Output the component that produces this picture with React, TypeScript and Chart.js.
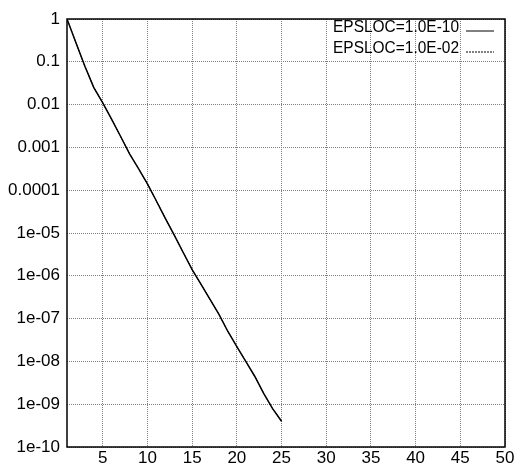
import React, { useEffect, useRef } from "react";
import { Chart, registerables } from "chart.js";

Chart.register(...registerables);

const iterations = [1, 2, 3, 4, 5, 6, 7, 8, 9, 10, 11, 12, 13, 14, 15, 16, 17, 18, 19, 20, 21, 22, 23, 24, 25];
const residualEps10 = [1, 0.28, 0.079, 0.025, 0.011, 0.0045, 0.0018, 7.1e-4, 3.2e-4, 1.4e-4, 5.6e-5, 2.2e-5, 8.9e-6, 3.5e-6, 1.4e-6, 6.3e-7, 2.8e-7, 1.26e-7, 5.0e-8, 2.2e-8, 1.0e-8, 4.5e-9, 1.8e-9, 7.9e-10, 4.0e-10];
const residualEps02 = [1, 0.28, 0.079, 0.025, 0.011, 0.0045, 0.0018, 7.1e-4, 3.2e-4, 1.4e-4, 5.6e-5, 2.2e-5, 8.9e-6, 3.5e-6, 1.4e-6, 6.3e-7, 2.8e-7, 1.26e-7, 5.0e-8, 2.2e-8, 1.0e-8, 4.5e-9, 1.8e-9, 7.9e-10, 4.0e-10];
const seriesNames = ["EPSLOC=1.0E-10", "EPSLOC=1.0E-02"];
const xTickValues = [5, 10, 15, 20, 25, 30, 35, 40, 45, 50];
const yTickValues = [1, 0.1, 0.01, 0.001, 0.0001, 1e-5, 1e-6, 1e-7, 1e-8, 1e-9, 1e-10];
const yTickLabels = ["1", "0.1", "0.01", "0.001", "0.0001", "1e-05", "1e-06", "1e-07", "1e-08", "1e-09", "1e-10"];

const FONT_FAMILY = "'Liberation Sans', Arial, sans-serif";
const FONT_SIZE = 17;

export default function App() {
  const ref = useRef<HTMLCanvasElement | null>(null);

  useEffect(() => {
    if (!ref.current) return;
    const framePlugin = {
      id: "frameAndLegend",
      afterDraw(chart: any) {
        const { ctx, chartArea } = chart;
        ctx.save();
        ctx.strokeStyle = "#000";
        ctx.lineWidth = 1.5;
        ctx.setLineDash([]);
        ctx.strokeRect(chartArea.left, chartArea.top, chartArea.right - chartArea.left, chartArea.bottom - chartArea.top);
        // legend (text slightly condensed horizontally, like the reference)
        const rows = [
          { y: 32, dash: [] as number[] },
          { y: 53, dash: [2, 1] },
        ];
        rows.forEach((r, i) => {
          ctx.save();
          ctx.font = FONT_SIZE + "px " + FONT_FAMILY;
          ctx.fillStyle = "#000";
          ctx.textAlign = "right";
          ctx.textBaseline = "alphabetic";
          ctx.translate(459, r.y);
          ctx.scale(0.91, 1);
          ctx.fillText(seriesNames[i], 0, 0);
          ctx.restore();
          ctx.beginPath();
          ctx.lineWidth = 1;
          ctx.strokeStyle = "#000";
          ctx.setLineDash(r.dash);
          ctx.moveTo(466, r.y - 1);
          ctx.lineTo(494, r.y - 1);
          ctx.stroke();
        });
        ctx.restore();
      },
    };

    const chart = new Chart(ref.current, {
      type: "line",
      data: {
        datasets: [
          {
            label: seriesNames[0],
            data: iterations.map((x, i) => ({ x, y: residualEps10[i] })),
            borderColor: "#000",
            borderWidth: 1.5,
            pointRadius: 0,
            tension: 0,
          },
          {
            label: seriesNames[1],
            data: iterations.map((x, i) => ({ x, y: residualEps02[i] })),
            borderColor: "#000",
            borderWidth: 1,
            borderDash: [2, 1],
            pointRadius: 0,
            tension: 0,
          },
        ],
      },
      options: {
        animation: false,
        responsive: false,
        maintainAspectRatio: false,
        layout: { padding: { top: 19, right: 11, left: 0, bottom: 0 } },
        plugins: { legend: { display: false }, tooltip: { enabled: false } },
        scales: {
          x: {
            type: "linear",
            min: 1,
            max: 50,
            afterBuildTicks: (scale: any) => {
              scale.ticks = xTickValues.map((v) => ({ value: v }));
            },
            afterFit: (scale: any) => {
              scale.height = 21;
            },
            grid: { color: "#808080", lineWidth: 1, drawTicks: false },
            border: { display: false, dash: [1, 1] },
            ticks: {
              color: "#000",
              font: { family: FONT_FAMILY, size: FONT_SIZE },
              padding: 1,
              maxRotation: 0,
              autoSkip: false,
              callback: (v: any) => String(v),
            },
          },
          y: {
            type: "logarithmic",
            min: 1e-10,
            max: 1,
            afterBuildTicks: (scale: any) => {
              scale.ticks = yTickValues.map((v) => ({ value: v }));
            },
            afterFit: (scale: any) => {
              scale.width = 67;
            },
            grid: { color: "#808080", lineWidth: 1, drawTicks: false },
            border: { display: false, dash: [1, 1] },
            ticks: {
              color: "#000",
              font: { family: FONT_FAMILY, size: FONT_SIZE },
              padding: 7,
              autoSkip: false,
              callback: (v: any) => {
                const idx = yTickValues.findIndex((t) => Math.abs(Math.log10(t) - Math.log10(v)) < 1e-6);
                return idx >= 0 ? yTickLabels[idx] : "";
              },
            },
          },
        },
      },
      plugins: [framePlugin],
    } as any);
    return () => chart.destroy();
  }, []);

  return (
    <div style={{ position: "fixed", left: 0, top: 0, width: 516, height: 468, background: "#fff" }}>
      <canvas ref={ref} width={516} height={468} style={{ width: 516, height: 468 }} />
    </div>
  );
}
